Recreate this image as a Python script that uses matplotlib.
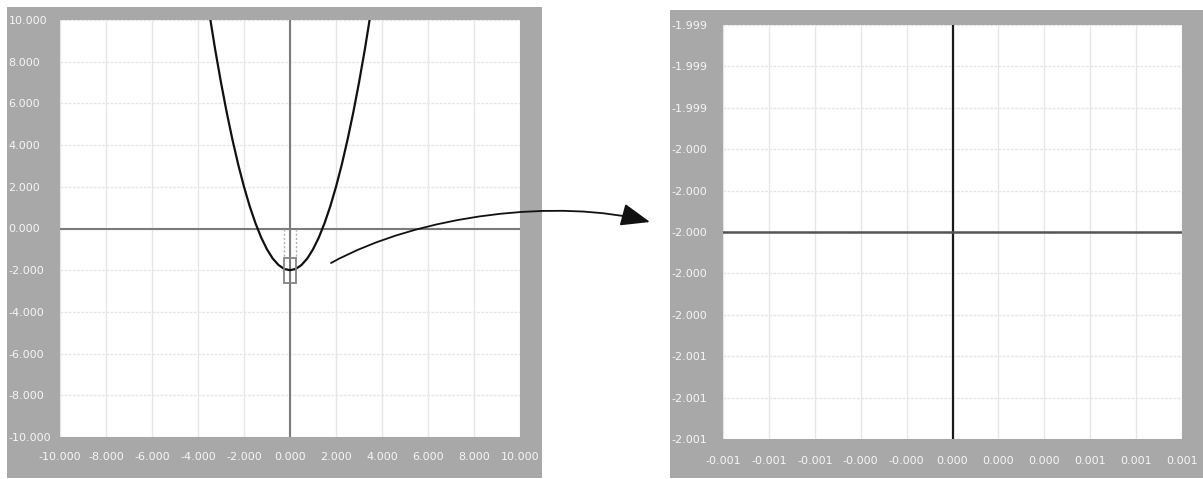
import numpy as np
import matplotlib
matplotlib.use("Agg")
import matplotlib.pyplot as plt
from matplotlib.patches import Rectangle, FancyArrowPatch
from matplotlib.path import Path

# ---- data -------------------------------------------------------------
# parabola y = x^2 - 2
curve_x = [-3.46, -3.25, -3.0, -2.75, -2.5, -2.25, -2.0, -1.75, -1.5, -1.25,
           -1.0, -0.75, -0.5, -0.25, 0.0, 0.25, 0.5, 0.75, 1.0, 1.25, 1.5,
           1.75, 2.0, 2.25, 2.5, 2.75, 3.0, 3.25, 3.46]
curve_y = [10.0, 8.56, 7.0, 5.56, 4.25, 3.06, 2.0, 1.06, 0.25, -0.44,
           -1.0, -1.44, -1.75, -1.94, -2.0, -1.94, -1.75, -1.44, -1.0, -0.44,
           0.25, 1.06, 2.0, 3.06, 4.25, 5.56, 7.0, 8.56, 10.0]

# wide view ticks
wide_ticks = [-10, -8, -6, -4, -2, 0, 2, 4, 6, 8, 10]
wide_tick_labels = ["-10.000", "-8.000", "-6.000", "-4.000", "-2.000", "0.000",
                    "2.000", "4.000", "6.000", "8.000", "10.000"]

# zoom box drawn on the wide view around the vertex
zoom_box_x = [-0.25, 0.25]
zoom_box_y = [-2.6, -1.4]

# magnified view around the vertex (0, -2)
zoom_x = [-0.001, 0.001]
zoom_y = [-2.0, -2.0]
zoom_xticks = [-0.001, -0.0008, -0.0006, -0.0004, -0.0002, 0.0,
               0.0002, 0.0004, 0.0006, 0.0008, 0.001]
zoom_xtick_labels = ["-0.001", "-0.001", "-0.001", "-0.000", "-0.000", "0.000",
                     "0.000", "0.000", "0.001", "0.001", "0.001"]
zoom_yticks = [-2.001, -2.0008, -2.0006, -2.0004, -2.0002, -2.0,
               -1.9998, -1.9996, -1.9994, -1.9992, -1.999]
zoom_ytick_labels = ["-2.001", "-2.001", "-2.001", "-2.000", "-2.000", "-2.000",
                     "-2.000", "-2.000", "-1.999", "-1.999", "-1.999"]

# ---- layout helpers ---------------------------------------------------
W, H = 1203, 479
FRAME = "#a8a8a8"
GRID = "#e6e6e6"
LABEL = "#f6f6f6"

fig = plt.figure(figsize=(W / 100, H / 100), dpi=100)
fig.patch.set_facecolor("white")


def fx(px):
    return px / W


def fy(py):
    return 1 - py / H


def frame(x0, y0, x1, y1):
    fig.patches.append(Rectangle((fx(x0), fy(y1)), fx(x1 - x0), (y1 - y0) / H,
                                 transform=fig.transFigure, facecolor=FRAME,
                                 edgecolor="none", zorder=-5))


def panel(x0, y0, x1, y1):
    return fig.add_axes([fx(x0), fy(y1), fx(x1 - x0), (y1 - y0) / H])


def style(ax, xticks, xlabels, yticks, ylabels, xpad):
    ax.set_facecolor("white")
    for s in ax.spines.values():
        s.set_visible(False)
    ax.set_xticks(xticks)
    ax.set_xticklabels(xlabels)
    ax.set_yticks(yticks)
    ax.set_yticklabels(ylabels)
    ax.tick_params(length=0, labelsize=8, labelcolor=LABEL)
    ax.tick_params(axis="y", pad=37)
    ax.tick_params(axis="x", pad=xpad)
    for t in ax.get_yticklabels():
        t.set_horizontalalignment("left")
    ax.grid(True, axis="x", color=GRID, lw=1.0, zorder=0)
    ax.grid(True, axis="y", color=GRID, lw=1.0, ls=(0, (2, 1)), zorder=0)
    ax.set_axisbelow(True)


# ---- wide view --------------------------------------------------------
frame(7, 7, 542, 478)
ax1 = panel(60, 20, 520, 437)
ax1.set_xlim(-10, 10)
ax1.set_ylim(-10, 10)
style(ax1, wide_ticks, wide_tick_labels, wide_ticks, wide_tick_labels, 11)
ax1.axhline(0, color="#7c7c7c", lw=1.5, zorder=2)
ax1.axvline(0, color="#7c7c7c", lw=1.5, zorder=2)
ax1.plot(curve_x, curve_y, color="#111111", lw=1.6, zorder=4)
ax1.add_patch(Rectangle((zoom_box_x[0], zoom_box_y[0]),
                        zoom_box_x[1] - zoom_box_x[0],
                        zoom_box_y[1] - zoom_box_y[0],
                        facecolor="none", edgecolor="#858585", lw=1.3, zorder=5))
for xb in zoom_box_x:
    ax1.plot([xb, xb], [0, zoom_box_y[1]], color="#b0b0b0", lw=1.0,
             ls=(0, (1.5, 1.5)), zorder=3)

# ---- magnified view ---------------------------------------------------
frame(670, 10, 1203, 478)
ax2 = panel(723, 25, 1182, 439)
ax2.set_xlim(-0.001, 0.001)
ax2.set_ylim(-2.001, -1.999)
style(ax2, zoom_xticks, zoom_xtick_labels, zoom_yticks, zoom_ytick_labels, 12)
ax2.axvline(0, color="#1a1a1a", lw=1.6, zorder=3)
ax2.plot(zoom_x, zoom_y, color="#555555", lw=1.8, zorder=4)

# ---- connecting arrow -------------------------------------------------
pts = [(331, 263), (420, 214), (560, 198), (650, 222)]
arrow_path = Path([(fx(x), fy(y)) for x, y in pts],
                  [Path.MOVETO, Path.CURVE4, Path.CURVE4, Path.CURVE4])
arrow = FancyArrowPatch(path=arrow_path, transform=fig.transFigure,
                        arrowstyle="-|>,head_length=18,head_width=7",
                        color="#111111", lw=1.3, zorder=10)
fig.patches.append(arrow)

fig.savefig("out.png", dpi=100, facecolor="white")
